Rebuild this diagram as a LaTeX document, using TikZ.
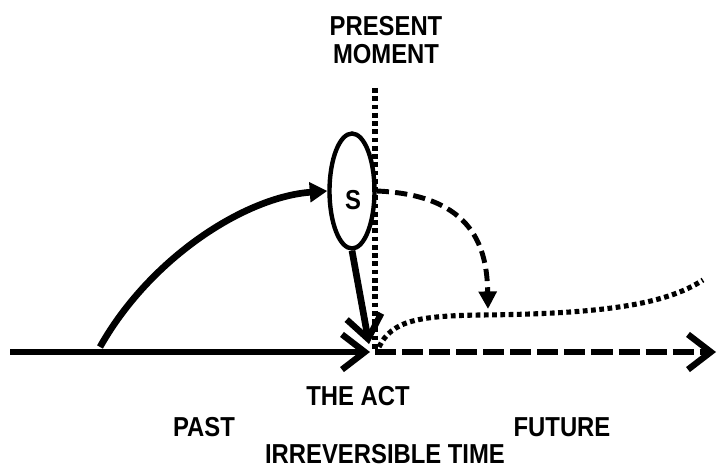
\documentclass[tikz,border=0pt]{standalone}
\usepackage{fontspec}
\setmainfont{Liberation Sans}[FakeStretch=0.87]
\usetikzlibrary{arrows.meta,shapes.geometric}
\begin{document}
\begin{tikzpicture}[x=0.02cm,y=-0.02cm,
  lbl/.style={font=\fontsize{15.6}{17}\selectfont\bfseries,align=center,inner sep=0pt},
  thick line/.style={line width=3.8pt},
  chev/.style={-{Straight Barb[length=13pt,width=20pt,line width=3.6pt]}},
  tri/.style={-{Triangle[length=10pt,width=11pt]}},
  dotline/.style={line width=2.9pt,dash pattern=on 2.7pt off 2pt}]
\useasboundingbox (0,0) rectangle (719,469);
% nodes
\node[draw,ellipse,line width=2.5pt,inner sep=0pt,
  minimum width=0.9cm,minimum height=2.3cm] (s) at (352,191) {};
\node[lbl] (slbl) at (353,200) {S};
\coordinate (start) at (10,352);
\coordinate (now) at (370,352);
\coordinate (end) at (716,352);
\coordinate (top) at (375,88);
\coordinate (curvestart) at (100,347);
\coordinate (drop) at (488,309);
\coordinate (dotend) at (703,280);
% labels
\node[lbl] (present) at (386,40) {PRESENT\\[-1pt]MOMENT};
\node[lbl] (act) at (358,396) {THE ACT};
\node[lbl] (past) at (204,427) {PAST};
\node[lbl] (future) at (562,427) {FUTURE};
\node[lbl] (irr) at (385,454) {IRREVERSIBLE TIME};
% vertical dotted line
\draw[dotline] (top) -- (375,352);
% main timeline
\draw[thick line,chev] (start) -- (now);
\draw[thick line,chev,dash pattern=on 12pt off 3.4pt] (375,352) -- (end);
% curved arrow into S
\draw[thick line,tri] (curvestart) .. controls (150,258) and (245,197) .. (s.west);
% arrow from S down to the act
\draw[thick line,chev] (s.south) -- (369,344);
% dashed arrow
\draw[line width=2.8pt,dash pattern=on 7pt off 3.5pt,-{Triangle[length=10pt,width=10pt]}]
  (s.east) .. controls (475,195) and (487,250) .. (drop);
% dotted future curve
\draw[dotline]
  (379,347) .. controls (392,320) and (420,316) .. (480,315)
  .. controls (600,314) and (665,305) .. (dotend);
\end{tikzpicture}
\end{document}
